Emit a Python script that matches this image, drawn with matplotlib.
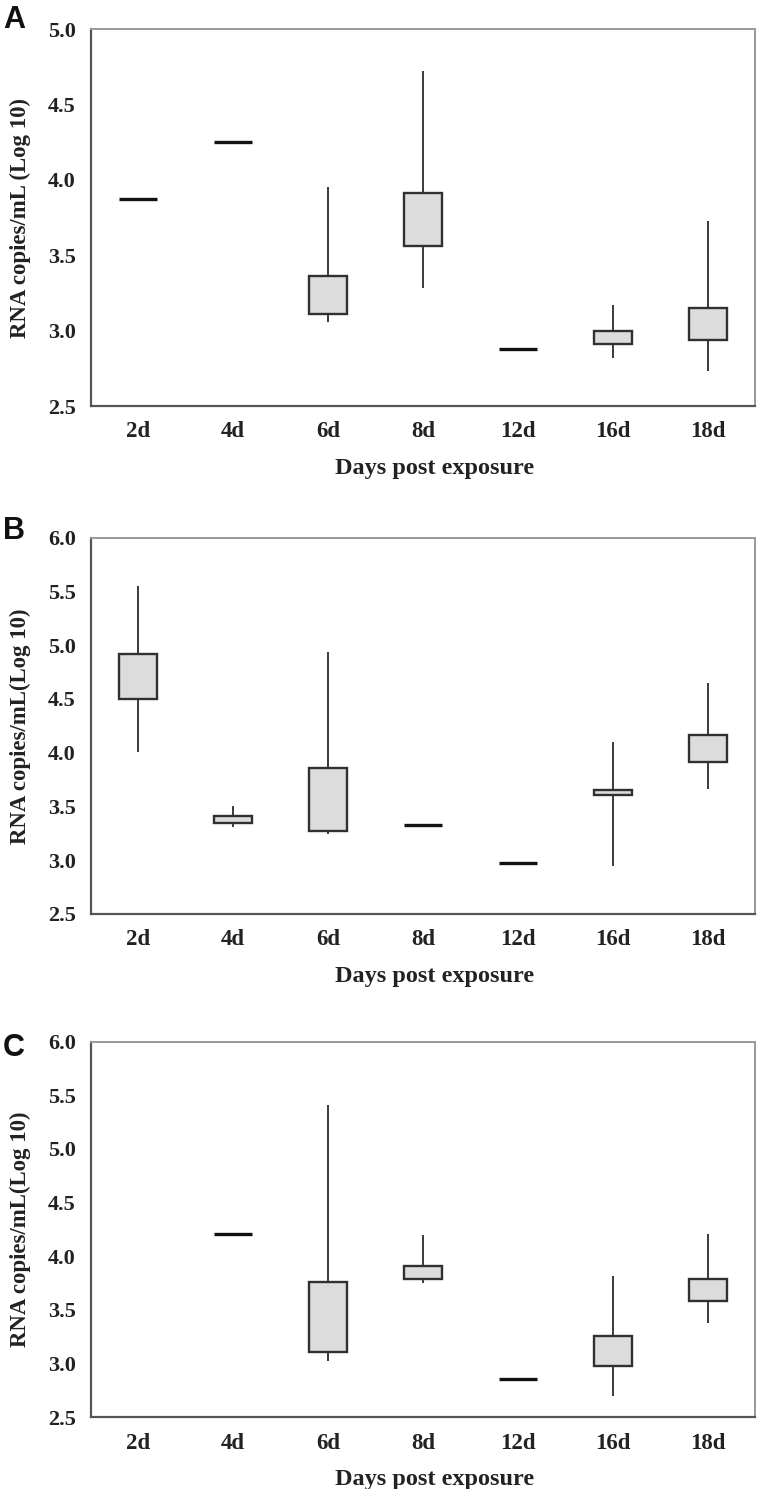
import numpy as np
import matplotlib
matplotlib.use("Agg")
import matplotlib.pyplot as plt

# ============================================================
# DADOS
# ============================================================

days = ["2d", "4d", "6d", "8d", "12d", "16d", "18d"]

nan = np.nan

# painel A
a_low = [nan, nan, 3.06, 3.28, nan, 2.82, 2.73]
a_q1 = [nan, nan, 3.11, 3.56, nan, 2.91, 2.94]
a_q3 = [nan, nan, 3.36, 3.91, nan, 3.00, 3.15]
a_high = [nan, nan, 3.95, 4.72, nan, 3.17, 3.73]
a_single = [3.87, 4.25, nan, nan, 2.88, nan, nan]

# painel B
b_low = [4.01, 3.31, 3.24, nan, nan, 2.95, 3.66]
b_q1 = [4.50, 3.35, 3.27, nan, nan, 3.61, 3.91]
b_q3 = [4.92, 3.41, 3.86, nan, nan, 3.65, 4.16]
b_high = [5.55, 3.50, 4.94, nan, nan, 4.10, 4.65]
b_single = [nan, nan, nan, 3.33, 2.97, nan, nan]

# painel C
c_low = [nan, nan, 3.02, 3.75, nan, 2.70, 3.38]
c_q1 = [nan, nan, 3.11, 3.79, nan, 2.98, 3.58]
c_q3 = [nan, nan, 3.76, 3.91, nan, 3.26, 3.79]
c_high = [nan, nan, 5.41, 4.20, nan, 3.82, 4.21]
c_single = [nan, 4.21, nan, nan, 2.86, nan, nan]

panels = [
    ("A", a_low, a_q1, a_q3, a_high, a_single, (2.5, 5.0),
     "RNA copies/mL (Log 10)"),
    ("B", b_low, b_q1, b_q3, b_high, b_single, (2.5, 6.0),
     "RNA copies/mL(Log 10)"),
    ("C", c_low, c_q1, c_q3, c_high, c_single, (2.5, 6.0),
     "RNA copies/mL(Log 10)"),
]

# ============================================================
# FIGURA
# ============================================================

fig = plt.figure(figsize=(7.58, 14.89), dpi=100)

serif = ["Liberation Serif", "DejaVu Serif"]
sans = ["Liberation Sans", "DejaVu Sans"]

axes_pos = [
    [0.120, 0.7273, 0.876, 0.2532],
    [0.120, 0.3862, 0.876, 0.2527],
    [0.120, 0.0482, 0.876, 0.2522],
]

letter_top = [5, 516, 1033]

x = np.arange(len(days))
box_w = 0.40

for k, (letter, low, q1, q3, high, single, ylim, ylab) in enumerate(panels):

    ax = fig.add_axes(axes_pos[k])

    low = np.array(low)
    q1 = np.array(q1)
    q3 = np.array(q3)
    high = np.array(high)
    single = np.array(single)

    has_box = ~np.isnan(q1)

    # bigodes
    ax.vlines(
        x[has_box], low[has_box], high[has_box],
        color="#3a3a3a", linewidth=1.4, zorder=2
    )

    # caixas
    ax.bar(
        x[has_box], q3[has_box] - q1[has_box],
        bottom=q1[has_box], width=box_w,
        facecolor="#dcdcdc", edgecolor="#303030",
        linewidth=1.7, zorder=3
    )

    # valores únicos
    has_single = ~np.isnan(single)
    ax.hlines(
        single[has_single],
        x[has_single] - box_w / 2, x[has_single] + box_w / 2,
        color="#111111", linewidth=2.4, zorder=3
    )

    ax.set_xlim(-0.5, len(days) - 0.5)
    ax.set_ylim(*ylim)
    ax.set_yticks(np.arange(ylim[0], ylim[1] + 0.01, 0.5))
    ax.set_yticklabels([f"{v:.1f}" for v in ax.get_yticks()])
    ax.set_xticks(x)
    ax.set_xticklabels(days)

    ax.tick_params(length=0)
    for lab in ax.get_xticklabels():
        lab.set_fontfamily(serif)
        lab.set_fontweight("bold")
        lab.set_fontsize(16.5)
        lab.set_color("#222222")
    for lab in ax.get_yticklabels():
        lab.set_fontfamily(serif)
        lab.set_fontweight("bold")
        lab.set_fontsize(16)
        lab.set_color("#222222")
    ax.tick_params(axis="x", pad=11)
    ax.tick_params(axis="y", pad=11)

    for side in ["left", "bottom"]:
        ax.spines[side].set_color("#555555")
        ax.spines[side].set_linewidth(1.6)
    for side in ["top", "right"]:
        ax.spines[side].set_color("#999999")
        ax.spines[side].set_linewidth(1.4)

    ax.text(
        0.518, -0.180, "Days post exposure",
        transform=ax.transAxes, ha="center", va="baseline",
        fontsize=17.5, fontweight="bold", family=serif, color="#222222"
    )

    ax.text(
        -0.107, 0.5, ylab,
        transform=ax.transAxes, ha="center", va="center",
        rotation=90, fontsize=16.5, fontweight="bold",
        family=serif, color="#222222"
    )

    fig.text(
        0.004, 1 - letter_top[k] / 1489, letter,
        ha="left", va="top", fontsize=22, fontweight="bold",
        family=sans, color="#111111"
    )

fig.savefig("out.png", dpi=100)
plt.close(fig)
